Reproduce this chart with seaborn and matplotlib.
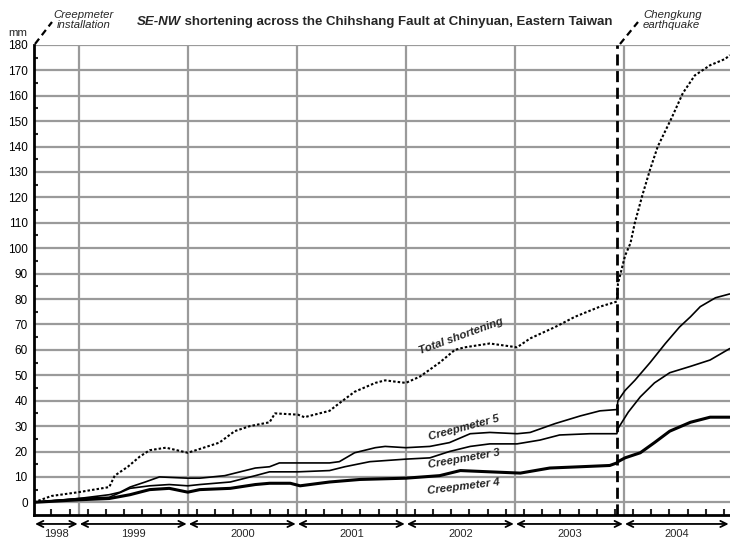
import numpy as np
import pandas as pd
import matplotlib
matplotlib.use("Agg")
import matplotlib.pyplot as plt
import matplotlib.transforms as mtransforms
from matplotlib.ticker import FixedLocator
import seaborn as sns

# values (decimal year, mm)
total_years = [1998.59, 1998.75, 1999.0, 1999.28, 1999.33, 1999.45, 1999.56, 1999.65, 1999.8,
               2000.0, 2000.11, 2000.29, 2000.43, 2000.57, 2000.75, 2000.8, 2001.01, 2001.07,
               2001.3, 2001.39, 2001.53, 2001.72, 2001.81, 2001.9, 2002.0, 2002.13, 2002.31,
               2002.45, 2002.54, 2002.77, 2003.02, 2003.14, 2003.37, 2003.55, 2003.78, 2003.935,
               2003.945, 2004.01, 2004.06, 2004.1, 2004.17, 2004.24, 2004.31, 2004.44, 2004.54,
               2004.65, 2004.79, 2004.93, 2004.97]
total_mm = [0, 2.5, 4, 6, 10.5, 14, 18, 20.5, 21.5,
            19.5, 21, 23.5, 28, 30, 31.5, 35, 34.5, 33.5,
            36, 39, 43.5, 47, 48, 47.5, 47, 49.5, 55,
            60, 61, 62.5, 61, 64.5, 69, 73, 77, 79,
            86, 97, 102, 110, 121, 131, 140, 151.5, 161,
            168, 172, 174.5, 176]

c5_years = [1998.59, 1999.0, 1999.28, 1999.38, 1999.47, 1999.61, 1999.74, 2000.0, 2000.11,
            2000.34, 2000.48, 2000.62, 2000.75, 2000.84, 2001.01, 2001.3, 2001.39, 2001.53,
            2001.72, 2001.81, 2002.0, 2002.22, 2002.4, 2002.59, 2002.77, 2003.02, 2003.14,
            2003.37, 2003.6, 2003.78, 2003.935, 2003.945, 2004.01, 2004.1, 2004.24, 2004.38,
            2004.51, 2004.61, 2004.7, 2004.84, 2004.97]
c5_mm = [0, 1.5, 3, 4, 6, 8, 10, 9.5, 9.5,
         10.5, 12, 13.5, 14, 15.5, 15.5, 15.5, 16, 19.5,
         21.5, 22, 21.5, 22, 23.5, 27, 27.5, 27, 27.5,
         31, 34, 36, 36.5, 40, 44, 48, 55, 62.5,
         69, 73, 77, 80.5, 82]

c3_years = [1998.59, 1999.0, 1999.28, 1999.47, 1999.65, 1999.83, 2000.0, 2000.11, 2000.39,
            2000.62, 2000.75, 2001.01, 2001.3, 2001.44, 2001.67, 2002.0, 2002.22, 2002.4,
            2002.59, 2002.77, 2003.02, 2003.23, 2003.41, 2003.69, 2003.935, 2003.945, 2004.04,
            2004.15, 2004.28, 2004.42, 2004.61, 2004.79, 2004.97]
c3_mm = [0, 1.5, 2, 5.5, 6.5, 7, 6.5, 7, 8,
         10.5, 12, 12, 12.5, 14, 16, 17, 17.5, 20,
         22, 23, 23, 24.5, 26.5, 27, 27, 29, 35.5,
         41.5, 47, 51, 53.5, 56, 60.5]

c4_years = [1998.59, 1999.0, 1999.28, 1999.47, 1999.65, 1999.83, 2000.0, 2000.11, 2000.39,
            2000.62, 2000.75, 2000.94, 2001.03, 2001.3, 2001.58, 2002.0, 2002.31, 2002.5,
            2002.77, 2003.05, 2003.32, 2003.6, 2003.87, 2003.935, 2003.945, 2004.01, 2004.15,
            2004.28, 2004.42, 2004.61, 2004.79, 2004.97]
c4_mm = [0, 1, 1.5, 3, 5, 5.5, 4, 5, 5.5,
         7, 7.5, 7.5, 6.5, 8, 9, 9.5, 10.5, 12.5,
         12, 11.5, 13.5, 14, 14.5, 15.5, 16, 17.5, 19.5,
         23.5, 28, 31.5, 33.5, 33.5]

year_labels = ["1998", "1999", "2000", "2001", "2002", "2003", "2004"]
year_bounds = [1998.59, 1999, 2000, 2001, 2002, 2003, 2004, 2004.97]
quake_year = 2003.94

sns.set_style("white")
plt.rcParams["font.family"] = ["Liberation Sans", "DejaVu Sans"]

fig = plt.figure(figsize=(7.3, 5.41), dpi=100)
ax = fig.add_axes([0.0466, 0.048, 0.953, 0.869])

grid_c = "#9a9a9a"
for y in range(0, 190, 10):
    ax.axhline(y, color=grid_c, lw=1.6, zorder=0)
for yr in year_bounds[1:-1]:
    ax.axvline(yr, color=grid_c, lw=1.6, zorder=0)

sns.lineplot(x=c4_years, y=c4_mm, ax=ax, color="black", lw=2.2)
sns.lineplot(x=c3_years, y=c3_mm, ax=ax, color="black", lw=1.2)
sns.lineplot(x=c5_years, y=c5_mm, ax=ax, color="black", lw=1.2)
sns.lineplot(x=total_years, y=total_mm, ax=ax, color="black", lw=1.5,
             linestyle=(0, (1.2, 1.0)))

# earthquake line
ax.axvline(quake_year, color="black", lw=2, linestyle=(0, (4, 2)), zorder=3)

ax.set_xlim(year_bounds[0], year_bounds[-1])
ax.set_ylim(-5, 180)
ax.set_xlabel("")
ax.set_ylabel("")

for s in ["top", "right"]:
    ax.spines[s].set_visible(False)
for s in ["left", "bottom"]:
    ax.spines[s].set_color("black")
    ax.spines[s].set_linewidth(2)

ax.yaxis.set_major_locator(FixedLocator(range(0, 190, 10)))
ax.yaxis.set_minor_locator(FixedLocator(range(5, 180, 10)))
ax.tick_params(axis="y", which="major", direction="out", length=3, width=1.5,
               labelsize=8.5, pad=1.5, colors="black")
ax.tick_params(axis="y", which="minor", direction="in", length=3, width=1.5, left=True)

xt = [y + m / 12 for y in range(1998, 2005) for m in (1, 3, 5, 7, 9, 11)]
xt = [t for t in xt if year_bounds[0] < t < year_bounds[-1]]
ax.xaxis.set_major_locator(FixedLocator(xt))
ax.set_xticklabels([])
ax.tick_params(axis="x", which="major", direction="in", length=4, width=1.5, bottom=True)

trans = mtransforms.blended_transform_factory(ax.transData, ax.transAxes)
for i, lab in enumerate(year_labels):
    x0, x1 = year_bounds[i], year_bounds[i + 1]
    ax.annotate("", xy=(x1 - 0.01, -0.019), xytext=(x0 + 0.01, -0.019),
                xycoords=trans, textcoords=trans, annotation_clip=False,
                arrowprops=dict(arrowstyle="<->,head_length=0.45,head_width=0.22",
                                color="black", lw=1.3, shrinkA=0, shrinkB=0))
    ax.text((x0 + x1) / 2, -0.041, lab, transform=trans, ha="center", va="center",
            fontsize=8)

# curve labels
lab_kw = dict(fontsize=8.2, fontweight="bold", fontstyle="italic", ha="center", va="center")
ax.text(2002.51, 65.3, "Total shortening", rotation=20, **lab_kw)
ax.text(2002.53, 29.2, "Creepmeter 5", rotation=15, **lab_kw)
ax.text(2002.53, 17.0, "Creepmeter 3", rotation=10, **lab_kw)
ax.text(2002.53, 6.3, "Creepmeter 4", rotation=7, **lab_kw)

# title and notes
title_rest = " shortening across the Chihshang Fault at Chinyuan, Eastern Taiwan"
t1 = fig.text(137 / 730, 1 - 22 / 541, "SE-NW", fontsize=9.5, fontweight="bold",
              fontstyle="italic", ha="left", va="center")
fig.canvas.draw()
bb = t1.get_window_extent()
fig.text(bb.x1 / 730, 1 - 22 / 541, title_rest, fontsize=9.5, fontweight="bold",
         ha="left", va="center")

fig.text(18 / 730, 1 - 33 / 541, "mm", fontsize=8.2, ha="center", va="center")
fig.text(84 / 730, 1 - 20 / 541, "Creepmeter\ninstallation", fontsize=8.2,
         fontstyle="italic", ha="center", va="center", linespacing=1.0)
fig.text(643 / 730, 1 - 20 / 541, "Chengkung\nearthquake", fontsize=8.2,
         fontstyle="italic", ha="left", va="center", linespacing=1.0)
fig.add_artist(plt.Line2D([35 / 730, 52 / 730], [1 - 44 / 541, 1 - 22 / 541],
                          color="black", lw=1.6, linestyle=(0, (3, 2))))
fig.add_artist(plt.Line2D([620 / 730, 638 / 730], [1 - 44 / 541, 1 - 22 / 541],
                          color="black", lw=1.6, linestyle=(0, (3, 2))))

fig.savefig("out.png", dpi=100)
